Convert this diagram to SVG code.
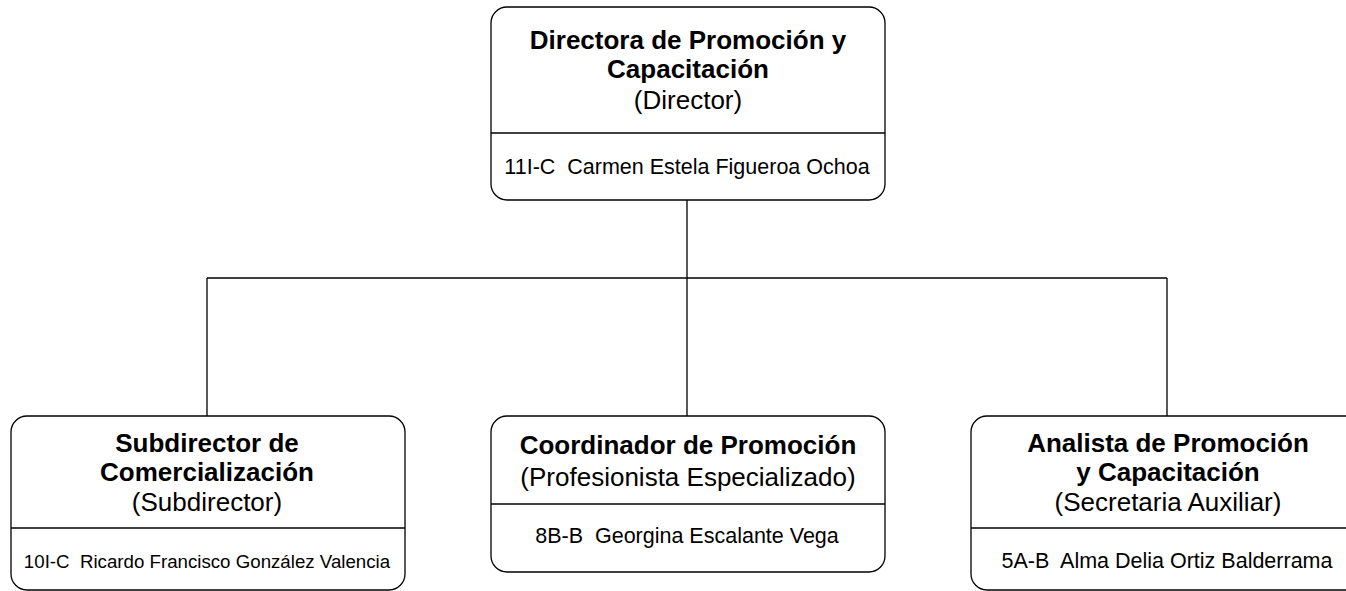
<svg xmlns="http://www.w3.org/2000/svg" width="1346" height="591" viewBox="0 0 1346 591" xml:space="preserve">
<style>
.box{fill:#fff;stroke:#000;stroke-width:1.3}
.div{stroke:#000;stroke-width:1.3}
.conn{fill:none;stroke:#000;stroke-width:1.3}
text{font-family:"Liberation Sans",Arial,sans-serif;fill:#000;text-anchor:middle;white-space:pre}
.t{font-size:26px;font-weight:bold}
.r{font-size:26px}
.n{font-size:21.5px}
.ns{font-size:18.7px}
</style>
<rect width="1346" height="591" fill="#fff"/>
<g id="connectors">
<path class="conn" d="M687 200V416M207 278H1167M207 278V416M1167 278V416"/>
</g>
<g id="director">
<rect class="box" x="491" y="7" width="394" height="193" rx="16"/>
<line class="div" x1="491" y1="133" x2="885" y2="133"/>
<text class="t" x="688" y="49">Directora de Promoción y</text>
<text class="t" x="688" y="78">Capacitación</text>
<text class="r" x="688" y="109">(Director)</text>
<text class="n" x="687" y="174">11I-C  Carmen Estela Figueroa Ochoa</text>
</g>
<g id="subdirector">
<rect class="box" x="11" y="416" width="394" height="174" rx="16"/>
<line class="div" x1="11" y1="528" x2="405" y2="528"/>
<text class="t" x="207" y="452">Subdirector de</text>
<text class="t" x="207" y="481">Comercialización</text>
<text class="r" x="207" y="511">(Subdirector)</text>
<text class="ns" x="207" y="568">10I-C  Ricardo Francisco González Valencia</text>
</g>
<g id="coordinador">
<rect class="box" x="491" y="416" width="394" height="156" rx="16"/>
<line class="div" x1="491" y1="504" x2="885" y2="504"/>
<text class="t" x="688" y="454">Coordinador de Promoción</text>
<text class="r" x="688" y="486">(Profesionista Especializado)</text>
<text class="n" x="687" y="543">8B-B  Georgina Escalante Vega</text>
</g>
<g id="analista">
<rect class="box" x="971" y="416" width="394" height="174" rx="16"/>
<line class="div" x1="971" y1="528" x2="1365" y2="528"/>
<text class="t" x="1168" y="452">Analista de Promoción</text>
<text class="t" x="1168" y="481">y Capacitación</text>
<text class="r" x="1168" y="511">(Secretaria Auxiliar)</text>
<text class="n" x="1167" y="568">5A-B  Alma Delia Ortiz Balderrama</text>
</g>
</svg>
